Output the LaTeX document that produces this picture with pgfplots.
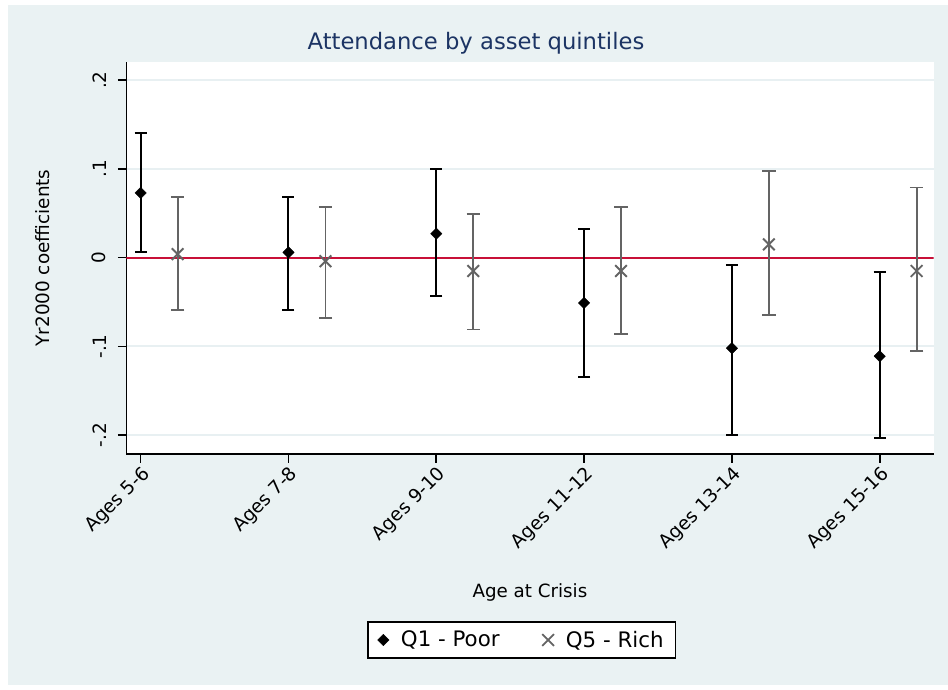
\documentclass[border=0pt]{standalone}
\usepackage{fontspec}
\setmainfont{DejaVu Sans}
\usepackage{pgfplots}
\usepackage{pgfplotstable}
\pgfplotsset{compat=1.18}
\definecolor{bgc}{RGB}{234,242,243}
\definecolor{gridc}{RGB}{232,240,242}
\definecolor{q5c}{RGB}{100,100,100}
\definecolor{redl}{RGB}{200,16,56}
\definecolor{titlec}{RGB}{28,52,100}

% Q1 - Poor: x, point estimate, lower CI, upper CI
\pgfplotstableread{
x    y       lo      hi
1    0.073   0.006   0.141
2    0.006  -0.059   0.068
3    0.027  -0.043   0.100
4   -0.051  -0.135   0.032
5   -0.102  -0.200  -0.008
6   -0.111  -0.203  -0.016
}\qone

% Q5 - Rich
\pgfplotstableread{
x     y       lo      hi
1.25  0.004  -0.059   0.068
2.25 -0.004  -0.068   0.057
3.25 -0.015  -0.081   0.049
4.25 -0.015  -0.086   0.057
5.25  0.015  -0.065   0.098
6.25 -0.015  -0.105   0.079
}\qfive

\begin{document}
\begin{tikzpicture}
\path[use as bounding box] (-94.875bp,-177bp) rectangle (616.125bp,340.5bp);
\fill[bgc] (-88.875bp,-173.25bp) rectangle (616.125bp,336.75bp);
\begin{axis}[
  at={(0,0)}, anchor=south west,
  scale only axis, width=605.25bp, height=294bp,
  xmin=0.904, xmax=6.364, ymin=-0.2212, ymax=0.2205,
  axis background/.style={fill=white},
  axis x line*=bottom, axis y line*=left,
  axis line style={-, line width=1.2bp, black},
  tick align=outside, major tick length=6.5bp,
  every tick/.style={line width=1.2bp, black},
  xtick={1,2,3,4,5,6},
  xticklabels={Ages 5-6, Ages 7-8, Ages 9-10, Ages 11-12, Ages 13-14, Ages 15-16},
  xticklabel style={rotate=45, anchor=north east, inner sep=1bp,
    font=\fontsize{14bp}{15bp}\selectfont},
  ytick={-0.2,-0.1,0,0.1,0.2},
  yticklabels={-.2,-.1,0,.1,.2},
  yticklabel style={rotate=90, anchor=south, inner xsep=2bp, inner ysep=8.5bp,
    font=\fontsize{13.8bp}{15bp}\selectfont},
  ymajorgrids, major grid style={gridc, line width=1.5bp},
  legend style={at={(axis description cs:0.490,-0.4745)}, anchor=center,
    legend columns=2, draw=black, line width=1.3bp, fill=white,
    font=\fontsize{16bp}{18bp}\selectfont, inner xsep=7bp, inner ysep=4.5bp},
  legend cell align=left,
  /tikz/every odd column/.append style={column sep=7bp},
  /tikz/every even column/.append style={column sep=30bp},
]
\addplot[draw=redl, color=redl, line width=1.4bp, forget plot] coordinates {(0.904,0) (6.364,0)};

\addplot[only marks, black, mark=square*, mark size=3bp,
  mark options={rotate=45, fill=black, line width=0.3bp},
  error bars/.cd, y dir=both, y explicit,
  error bar style={line width=1.5bp, black},
  error mark options={rotate=90, line width=1.5bp, black, mark size=4.5bp}]
  table[x=x, y=y, y error plus expr=\thisrow{hi}-\thisrow{y},
        y error minus expr=\thisrow{y}-\thisrow{lo}] {\qone};
\addlegendentry{Q1 - Poor}

\addplot[only marks, q5c, mark=x, mark size=6.2bp,
  mark options={line width=1.4bp, q5c},
  error bars/.cd, y dir=both, y explicit,
  error bar style={line width=1.35bp, q5c},
  error mark options={rotate=90, line width=1.35bp, q5c, mark size=5bp}]
  table[x=x, y=y, y error plus expr=\thisrow{hi}-\thisrow{y},
        y error minus expr=\thisrow{y}-\thisrow{lo}] {\qfive};
\addlegendentry{Q5 - Rich}
\end{axis}
\node[titlec, font=\fontsize{17bp}{20bp}\selectfont] at (262.1bp,308bp) {Attendance by asset quintiles};
\node[rotate=90, font=\fontsize{13.8bp}{16bp}\selectfont] at (-62.6bp,147bp) {Yr2000 coefficients};
\node[font=\fontsize{13.7bp}{16bp}\selectfont] at (302.6bp,-103.5bp) {Age at Crisis};
\end{tikzpicture}
\end{document}
